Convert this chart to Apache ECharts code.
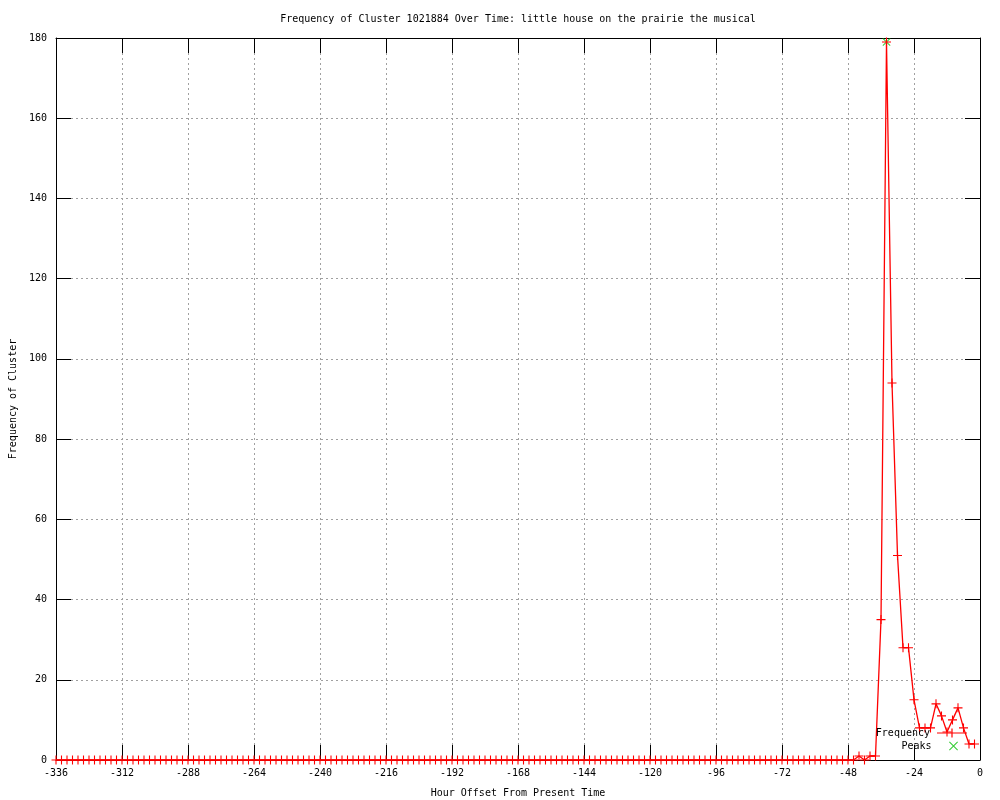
<!DOCTYPE html>
<html>
<head>
<meta charset="utf-8">
<script src="https://cdn.jsdelivr.net/npm/echarts@6/dist/echarts.min.js"></script>
<style>html,body{margin:0;padding:0;background:#fff;}#c{width:1000px;height:800px;}</style>
</head>
<body>
<div id="c"></div>
<script>
var titleText = 'Frequency of Cluster 1021884 Over Time: little house on the prairie the musical';
var xAxisName = 'Hour Offset From Present Time';
var yAxisName = 'Frequency of Cluster';

var hours = [
  -336,-334,-332,-330,-328,-326,-324,-322,-320,-318,-316,-314,
  -312,-310,-308,-306,-304,-302,-300,-298,-296,-294,-292,-290,
  -288,-286,-284,-282,-280,-278,-276,-274,-272,-270,-268,-266,
  -264,-262,-260,-258,-256,-254,-252,-250,-248,-246,-244,-242,
  -240,-238,-236,-234,-232,-230,-228,-226,-224,-222,-220,-218,
  -216,-214,-212,-210,-208,-206,-204,-202,-200,-198,-196,-194,
  -192,-190,-188,-186,-184,-182,-180,-178,-176,-174,-172,-170,
  -168,-166,-164,-162,-160,-158,-156,-154,-152,-150,-148,-146,
  -144,-142,-140,-138,-136,-134,-132,-130,-128,-126,-124,-122,
  -120,-118,-116,-114,-112,-110,-108,-106,-104,-102,-100,-98,
  -96,-94,-92,-90,-88,-86,-84,-82,-80,-78,-76,-74,
  -72,-70,-68,-66,-64,-62,-60,-58,-56,-54,-52,-50,
  -48,-46,-44,-42,-40,-38,-36,-34,-32,-30,-28,-26,
  -24,-22,-20,-18,-16,-14,-12,-10,-8,-6,-4,-2
];
var frequency = [
  0,0,0,0,0,0,0,0,0,0,0,0,
  0,0,0,0,0,0,0,0,0,0,0,0,
  0,0,0,0,0,0,0,0,0,0,0,0,
  0,0,0,0,0,0,0,0,0,0,0,0,
  0,0,0,0,0,0,0,0,0,0,0,0,
  0,0,0,0,0,0,0,0,0,0,0,0,
  0,0,0,0,0,0,0,0,0,0,0,0,
  0,0,0,0,0,0,0,0,0,0,0,0,
  0,0,0,0,0,0,0,0,0,0,0,0,
  0,0,0,0,0,0,0,0,0,0,0,0,
  0,0,0,0,0,0,0,0,0,0,0,0,
  0,0,0,0,0,0,0,0,0,0,0,0,
  0,0,1,0,1,1,35,179,94,51,28,28,
  15,8,8,8,14,11,7,10,13,8,4,4
];
var peakHours = [-34];
var peakValues = [179];

var xMin = -336, xMax = 0, xStep = 24;
var yMin = 0, yMax = 180, yStep = 20;

var freqData = hours.map(function (h, i) { return [h, frequency[i]]; });
var peakData = peakHours.map(function (h, i) { return [h, peakValues[i]]; });

var FONT = '"DejaVu Sans Mono", "Liberation Mono", monospace';
var plusPath = 'path://M0,4.4H10V5.6H0Z M4.4,0H5.6V10H4.4Z';
var crossPath = 'path://M0.8,0L5,4.2L9.2,0L10,0.8L5.8,5L10,9.2L9.2,10L5,5.8L0.8,10L0,9.2L4.2,5L0,0.8Z';
var keyLinePath = 'path://M0,4H30V5H0Z M14.4,0H15.6V9H14.4Z';

var chart = echarts.init(document.getElementById('c'), null, {renderer: 'canvas'});
var gridLine = {show: true, lineStyle: {color: '#a0a0a0', type: [2, 3], width: 1}};
var tickStyle = {show: true, inside: true, length: 15, lineStyle: {color: '#000', width: 1}};
chart.setOption({
  animation: false,
  backgroundColor: '#fff',
  title: {
    text: titleText,
    left: 513,
    textAlign: 'center',
    top: 9,
    textStyle: {fontFamily: FONT, fontSize: 10, fontWeight: 'normal', color: '#000'}
  },
  legend: [{
    data: [{name: 'Frequency', icon: keyLinePath, itemStyle: {color: '#ff0000'}}],
    right: 33, top: 728, padding: 0,
    align: 'right', orient: 'vertical',
    itemWidth: 30, itemHeight: 9,
    textStyle: {fontFamily: FONT, fontSize: 10, color: '#000', padding: [0, 2, 0, 0]}
  }, {
    data: ['Peaks'],
    right: 42, top: 741, padding: 0,
    align: 'right', orient: 'vertical',
    itemWidth: 30, itemHeight: 9,
    textStyle: {fontFamily: FONT, fontSize: 10, color: '#000', padding: [0, 2, 0, 0]}
  }],
  grid: {left: 56, right: 20, top: 38, bottom: 40, containLabel: false, outerBoundsMode: 'none'},
  xAxis: [{
    type: 'value', min: xMin, max: xMax, interval: xStep, position: 'bottom',
    name: xAxisName, nameLocation: 'middle', nameGap: 28,
    nameTextStyle: {fontFamily: FONT, fontSize: 10, color: '#000'},
    axisLine: {show: true, onZero: false, lineStyle: {color: '#000', width: 1}},
    axisTick: tickStyle,
    axisLabel: {fontFamily: FONT, fontSize: 10, color: '#000', margin: 8},
    splitLine: gridLine
  }, {
    type: 'value', min: xMin, max: xMax, interval: xStep, position: 'top',
    axisLine: {show: true, onZero: false, lineStyle: {color: '#000', width: 1}},
    axisTick: tickStyle,
    axisLabel: {show: false},
    splitLine: {show: false}
  }],
  yAxis: [{
    type: 'value', min: yMin, max: yMax, interval: yStep, position: 'left',
    name: yAxisName, nameLocation: 'middle', nameGap: 38, nameRotate: 90,
    nameTextStyle: {fontFamily: FONT, fontSize: 10, color: '#000'},
    axisLine: {show: true, onZero: false, lineStyle: {color: '#000', width: 1}},
    axisTick: tickStyle,
    axisLabel: {fontFamily: FONT, fontSize: 10, color: '#000', margin: 9},
    splitLine: gridLine
  }, {
    type: 'value', min: yMin, max: yMax, interval: yStep, position: 'right',
    axisLine: {show: true, onZero: false, lineStyle: {color: '#000', width: 1}},
    axisTick: tickStyle,
    axisLabel: {show: false},
    splitLine: {show: false}
  }],
  series: [{
    name: 'Frequency',
    type: 'line',
    data: freqData,
    xAxisIndex: 0, yAxisIndex: 0,
    symbol: plusPath, symbolSize: 9, showSymbol: true, showAllSymbol: true,
    clip: false,
    lineStyle: {color: '#ff0000', width: 1.3},
    itemStyle: {color: '#ff0000'},
    z: 3
  }, {
    name: 'Peaks',
    type: 'scatter',
    data: peakData,
    xAxisIndex: 0, yAxisIndex: 0,
    symbol: crossPath, symbolSize: 8,
    clip: false,
    itemStyle: {color: '#00c000'},
    z: 2
  }]
});
</script>
</body>
</html>
